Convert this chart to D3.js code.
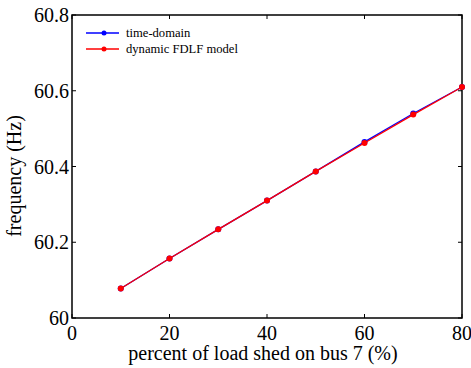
<!DOCTYPE html>
<html><head><meta charset="utf-8">
<script src="https://cdn.jsdelivr.net/npm/d3@7"></script>
<style>body{margin:0;background:#fff}svg{display:block}</style>
</head><body>
<svg id="c" width="471" height="368"></svg>
<script>
const loadShed = [10, 20, 30, 40, 50, 60, 70, 80];
const timeDomain = [60.078, 60.157, 60.234, 60.310, 60.387, 60.465, 60.540, 60.610];
const fdlfModel = [60.078, 60.157, 60.234, 60.310, 60.387, 60.462, 60.537, 60.610];
const xTicks = [0, 20, 40, 60, 80];
const yTicks = [60, 60.2, 60.4, 60.6, 60.8];
const yTickLabels = ["60", "60.2", "60.4", "60.6", "60.8"];
const seriesNames = ["time-domain", "dynamic FDLF model"];

const svg = d3.select("#c");
const L = 72, R = 462, T = 15, B = 318;
const x = d3.scaleLinear().domain([0, 80]).range([L, R]);
const y = d3.scaleLinear().domain([60, 60.8]).range([B, T]);
const font = "Liberation Serif, Times New Roman, serif";

// frame
svg.append("rect").attr("x", L).attr("y", T).attr("width", R - L).attr("height", B - T)
  .attr("fill", "none").attr("stroke", "#000").attr("stroke-width", 1.5);

// ticks inward
const gx = svg.append("g");
xTicks.forEach(v => {
  gx.append("line").attr("x1", x(v)).attr("x2", x(v)).attr("y1", B).attr("y2", B - 4).attr("stroke", "#000");
  gx.append("line").attr("x1", x(v)).attr("x2", x(v)).attr("y1", T).attr("y2", T + 4).attr("stroke", "#000");
  gx.append("text").attr("x", x(v)).attr("y", 340).attr("text-anchor", "middle")
    .attr("font-family", font).attr("font-size", 20).text(v);
});
yTicks.forEach((v, i) => {
  gx.append("line").attr("x1", L).attr("x2", L + 4).attr("y1", y(v)).attr("y2", y(v)).attr("stroke", "#000");
  gx.append("line").attr("x1", R).attr("x2", R - 4).attr("y1", y(v)).attr("y2", y(v)).attr("stroke", "#000");
  gx.append("text").attr("x", L - 3).attr("y", y(v) + 7).attr("text-anchor", "end")
    .attr("font-family", font).attr("font-size", 20).text(yTickLabels[i]);
});

// axis labels
svg.append("text").attr("x", 263).attr("y", 360).attr("text-anchor", "middle")
  .attr("font-family", font).attr("font-size", 20).text("percent of load shed on bus 7 (%)");
svg.append("text").attr("transform", "translate(21,176) rotate(-90)").attr("text-anchor", "middle")
  .attr("font-family", font).attr("font-size", 20).text("frequency (Hz)");

const line = d3.line().x((d, i) => x(loadShed[i])).y(d => y(d));
const series = [{v: timeDomain, c: "#0000ff"}, {v: fdlfModel, c: "#ff0000"}];
series.forEach(s => {
  svg.append("path").attr("d", line(s.v)).attr("fill", "none").attr("stroke", s.c).attr("stroke-width", 1.3);
  svg.selectAll(null).data(s.v).enter().append("circle")
    .attr("cx", (d, i) => x(loadShed[i])).attr("cy", d => y(d)).attr("r", 3).attr("fill", s.c);
});

// legend
series.forEach((s, i) => {
  const ly = 33 + i * 16;
  svg.append("line").attr("x1", 86).attr("x2", 119).attr("y1", ly).attr("y2", ly).attr("stroke", s.c).attr("stroke-width", 1.3);
  svg.append("circle").attr("cx", 104).attr("cy", ly).attr("r", 2.5).attr("fill", s.c);
  svg.append("text").attr("x", 126).attr("y", ly + 4).attr("font-family", font).attr("font-size", 12.6).text(seriesNames[i]);
});
</script>
</body></html>
